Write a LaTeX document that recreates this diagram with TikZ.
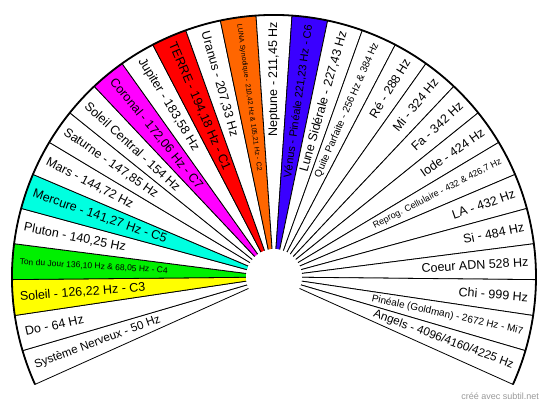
\documentclass[tikz,border=0pt]{standalone}
\usepackage{fontspec}
\setmainfont{Liberation Sans}
\definecolor{cYel}{HTML}{FFFF00}
\definecolor{cGrn}{HTML}{00F000}
\definecolor{cCya}{HTML}{00FFE0}
\definecolor{cMag}{HTML}{FF00FF}
\definecolor{cRed}{HTML}{FF0000}
\definecolor{cOra}{HTML}{FF6600}
\definecolor{cBlu}{HTML}{3A00FF}
\definecolor{cGry}{HTML}{999999}
\tikzset{
  segline/.style={draw=black, line width=0.8pt, line join=round},
  segtext/.style={inner sep=0pt, text=black},
  rimline/.style={draw=black, line width=1.8pt},
}
\newcommand\segwedge[2]{%
  \pgfmathsetmacro\aA{204.2-(#1-1)*7.876}%
  \pgfmathsetmacro\aB{\aA-7.876}%
  \filldraw[segline, fill=#2] (0,0) -- (\aA:262) arc[start angle=\aA, end angle=\aB, radius=262] -- cycle;%
}
\newcommand\seglabel[3]{%
  \pgfmathsetmacro\aM{204.2-(#1-0.5)*7.876}%
  \ifdim\aM pt>91pt
    \pgfmathsetmacro\rot{\aM+180}%
    \node[segtext, anchor=west, rotate=\rot] (s#1) at (\aM:255) {\fontsize{#2}{#2}\selectfont #3};%
  \else
    \node[segtext, anchor=east, rotate=\aM] (s#1) at (\aM:255) {\fontsize{#2}{#2}\selectfont #3};%
  \fi
}
\begin{document}
\begin{tikzpicture}[x=1pt,y=1pt]
\useasboundingbox (0,0) rectangle (550,408);
\begin{scope}[shift={(274,131)}]
\segwedge{1}{white}
\segwedge{2}{white}
\segwedge{3}{cYel}
\segwedge{4}{cGrn}
\segwedge{5}{white}
\segwedge{6}{cCya}
\segwedge{7}{white}
\segwedge{8}{white}
\segwedge{9}{white}
\segwedge{10}{cMag}
\segwedge{11}{white}
\segwedge{12}{cRed}
\segwedge{13}{white}
\segwedge{14}{cOra}
\segwedge{15}{white}
\segwedge{16}{cBlu}
\segwedge{17}{white}
\segwedge{18}{white}
\segwedge{19}{white}
\segwedge{20}{white}
\segwedge{21}{white}
\segwedge{22}{white}
\segwedge{23}{white}
\segwedge{24}{white}
\segwedge{25}{white}
\segwedge{26}{white}
\segwedge{27}{white}
\segwedge{28}{white}
\segwedge{29}{white}
\draw[rimline] (204.2:262) arc[start angle=204.2, end angle=-24.2, radius=262];
\fill[white] (0,0) circle[radius=28];
\seglabel{1}{11.7}{Système Nerveux - 50 Hz}
\seglabel{2}{12.5}{Do - 64 Hz}
\seglabel{3}{12.5}{Soleil - 126,22 Hz - C3}
\seglabel{4}{8.5}{Ton du Jour 136,10 Hz \& 68,05 Hz - C4}
\seglabel{5}{12.5}{Pluton - 140,25 Hz}
\seglabel{6}{12.5}{Mercure - 141,27 Hz - C5}
\seglabel{7}{12.5}{Mars - 144,72 Hz}
\seglabel{8}{12.5}{Saturne - 147,85 Hz}
\seglabel{9}{12.5}{Soleil Central - 154 Hz}
\seglabel{10}{12.5}{Coronal - 172,06 Hz - C7}
\seglabel{11}{12.5}{Jupiter - 183,58 Hz}
\seglabel{12}{12.5}{TERRE - 194,18 Hz - C1}
\seglabel{13}{12.5}{Uranus - 207,33 Hz}
\seglabel{14}{7}{LUNA Synodique - 210,42 Hz \& 105,21 Hz - C2}
\seglabel{15}{12.5}{Neptune - 211,45 Hz}
\seglabel{16}{11}{Vénus - Pinéale  221,23 Hz - C6}
\seglabel{17}{12.5}{Lune Sidérale - 227,43 Hz}
\seglabel{18}{10}{Quite Parfaite - 256 Hz \& 384 Hz}
\seglabel{19}{12.5}{Ré - 288 Hz}
\seglabel{20}{12.5}{Mi - 324 Hz}
\seglabel{21}{12.5}{Fa - 342 Hz}
\seglabel{22}{12.5}{Iode - 424 Hz}
\seglabel{23}{9}{Reprog. Cellulaire - 432 \& 426,7 Hz}
\seglabel{24}{12.5}{LA - 432 Hz}
\seglabel{25}{12.5}{Si - 484 Hz}
\seglabel{26}{12.5}{Coeur ADN 528 Hz}
\seglabel{27}{12.5}{Chi - 999 Hz}
\seglabel{28}{10}{Pinéale (Goldman) - 2672 Hz - Mi7}
\seglabel{29}{11.7}{Angels - 4096/4160/4225 Hz}
\end{scope}
\node[inner sep=0pt, text=cGry, anchor=east] (credit) at (539,12) {\fontsize{9}{9}\selectfont créé avec subtil.net};
\end{tikzpicture}
\end{document}
